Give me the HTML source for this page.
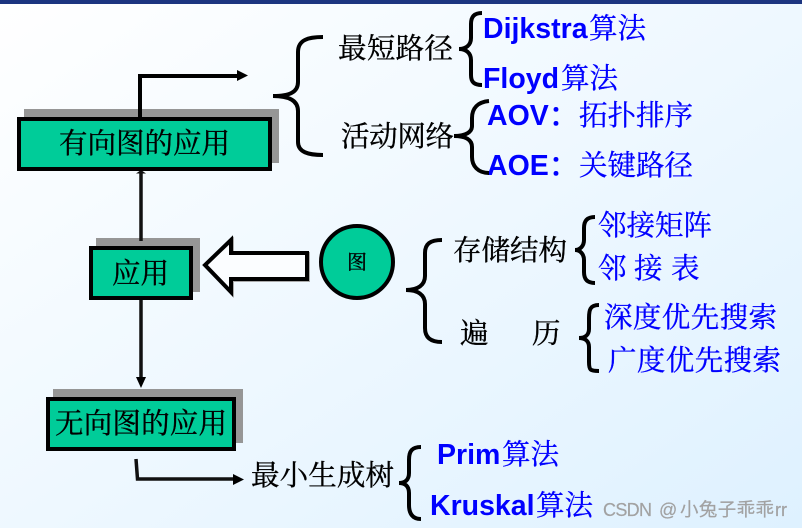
<!DOCTYPE html>
<html><head><meta charset="utf-8"><style>
html,body{margin:0;padding:0;background:#fff}
svg{display:block}
.s{font-family:"Liberation Serif","Noto Serif CJK SC",serif;font-size:28.5px;fill:#000;stroke:#000;stroke-width:.35}
.b{font-family:"Liberation Serif","Noto Serif CJK SC",serif;font-size:28.5px;fill:#00f;stroke:#00f;stroke-width:.3}
.l{font-family:"Liberation Sans","Noto Sans CJK SC",sans-serif;font-size:28.5px;font-weight:bold;fill:#00f}
.c{font-family:"Liberation Sans","Noto Sans CJK SC",sans-serif;font-size:28px;font-weight:normal;fill:#00f;stroke:#00f;stroke-width:.6}
.br{fill:none;stroke:#000;stroke-width:3.5}
.w{font-family:"Liberation Sans","Noto Sans CJK SC",sans-serif;fill:#a2a2a2;stroke:#a2a2a2;stroke-width:.2}
</style></head><body>
<svg width="802" height="528" viewBox="0 0 802 528" xmlns="http://www.w3.org/2000/svg">
<defs><linearGradient id="g" x1="0" y1="0" x2="1" y2="1"><stop offset="0" stop-color="#fff"/><stop offset="1" stop-color="#def1ff"/></linearGradient></defs>
<rect width="802" height="528" fill="url(#g)"/>
<rect width="802" height="4" fill="#1c3580"/>

<rect x="24" y="109" width="255" height="54" fill="#969696"/>
<rect x="96" y="238" width="104" height="54" fill="#969696"/>
<rect x="53" y="389" width="190" height="54" fill="#969696"/>

<g fill="none" stroke="#000">
<path d="M140 118V76H240" stroke-width="4"/>
<path d="M141 172V241" stroke-width="3.5" stroke="#111"/>
<path d="M141 300V382" stroke-width="3.5" stroke="#111"/>
<path d="M136 459L137.500 479H236" stroke-width="3.500" stroke="#111"/>
</g>
<path d="M237 70L248 75.500L237 81Z" fill="#000"/>
<path d="M136 377H146L141 388Z" fill="#000"/>
<path d="M136 173.500L141 170L146 173.500Z" fill="#111"/>
<path d="M233 474L244 479.500L233 485Z" fill="#000"/>

<rect x="19" y="119" width="251" height="50" fill="#00cc99" stroke="#000" stroke-width="4"/>
<rect x="91" y="248" width="100" height="50" fill="#00cc99" stroke="#000" stroke-width="4"/>
<rect x="48" y="399" width="186" height="50" fill="#00cc99" stroke="#000" stroke-width="4"/>

<path d="M308 254H232V241L206 265.500L232 293V280H308Z" fill="none" stroke="#aaa" stroke-width="4"/>
<path d="M307 253H231V240L205 265L231 292V279H307Z" fill="#fbfdff" stroke="#000" stroke-width="4"/>
<circle cx="357" cy="262" r="36" fill="#00cc99" stroke="#000" stroke-width="4"/>

<text class="s" x="59" y="153" textLength="171">有向图的应用</text>
<text class="s" x="112" y="283" textLength="57">应用</text>
<text class="s" x="55" y="433" textLength="172">无向图的应用</text>
<text x="347" y="269" font-family="'Liberation Serif','Noto Serif CJK SC',serif" font-size="20" fill="#000" stroke="#000" stroke-width=".3">图</text>

<text class="s" x="338" y="58" textLength="115">最短路径</text>
<text class="s" x="341" y="146" textLength="113">活动网络</text>
<text class="s" x="453" y="260" textLength="114">存储结构</text>
<text class="s" x="460" y="343">遍</text>
<text class="s" x="532" y="343">历</text>
<text class="s" x="251" y="485" textLength="143">最小生成树</text>

<text class="l" x="483" y="38">Dijkstra</text><text class="b" x="589" y="38">算法</text>
<text class="l" x="483" y="88">Floyd</text><text class="b" x="561" y="88">算法</text>
<text class="l" x="487" y="125">AOV</text><text class="c" x="549" y="125">：</text>
<text class="b" x="579" y="125" textLength="114">拓扑排序</text>
<text class="l" x="487" y="175">AOE</text><text class="c" x="549" y="175">：</text>
<text class="b" x="579" y="175" textLength="114">关键路径</text>
<text class="b" x="598" y="235" textLength="114">邻接矩阵</text>
<text class="b" x="598" y="278">邻</text>
<text class="b" x="634" y="278">接</text>
<text class="b" x="671" y="278">表</text>
<text class="b" x="604" y="327" textLength="173">深度优先搜索</text>
<text class="b" x="608" y="370" textLength="173">广度优先搜索</text>
<text class="l" x="437" y="464">Prim</text><text class="b" x="502" y="464">算法</text>
<text class="l" x="430" y="515">Kruskal</text><text class="b" x="536" y="515">算法</text>

<g class="br">
<path d="M323 37C308 37 298 40 298 52V82C298 92 290 96 273 96C290 96 298 101 298 111V142C298 152 308 155 323 155" stroke-width="4"/>
<path d="M482 13C474 13 471 17 471 24V38C471 45 466 49 459 49C466 49 471 53 471 60V75C471 82 474 85 482 85" stroke-width="4"/>
<path d="M489 101C478 102 472 108 472 118V126C472 132 466 136 454 136C466 136 472 140 472 147V157C472 166 478 173 489 173" stroke-width="4"/>
<path d="M442 240C430 240 425 244 425 253V276C425 285 418 290 406 290C418 290 425 295 425 304V328C425 337 430 342 442 342" stroke-width="4"/>
<path d="M595 217C587 217 584 221 584 228V240C584 246 580 250 575 250C580 250 584 254 584 260V272C584 279 587 283 595 283" stroke-width="4"/>
<path d="M599 305C590 305 589 310 589 318V329C589 335 585 338 579 338C585 338 589 341 589 347V362C589 370 590 371 599 371" stroke-width="4"/>
<path d="M421 447C412 447 409 451 409 460V473C409 480 405 483 399 483C405 483 409 486 409 493V505C409 513 412 519 421 519" stroke-width="4"/>
</g>

<text class="w" x="603" y="516" font-size="18" textLength="49">CSDN</text>
<text class="w" x="659" y="516" font-size="18">@</text>
<text class="w" x="680" y="516" font-size="18.500" textLength="94">小兔子乖乖</text>
<text class="w" x="775" y="516" font-size="18" textLength="12">rr</text>
</svg>
</body></html>
